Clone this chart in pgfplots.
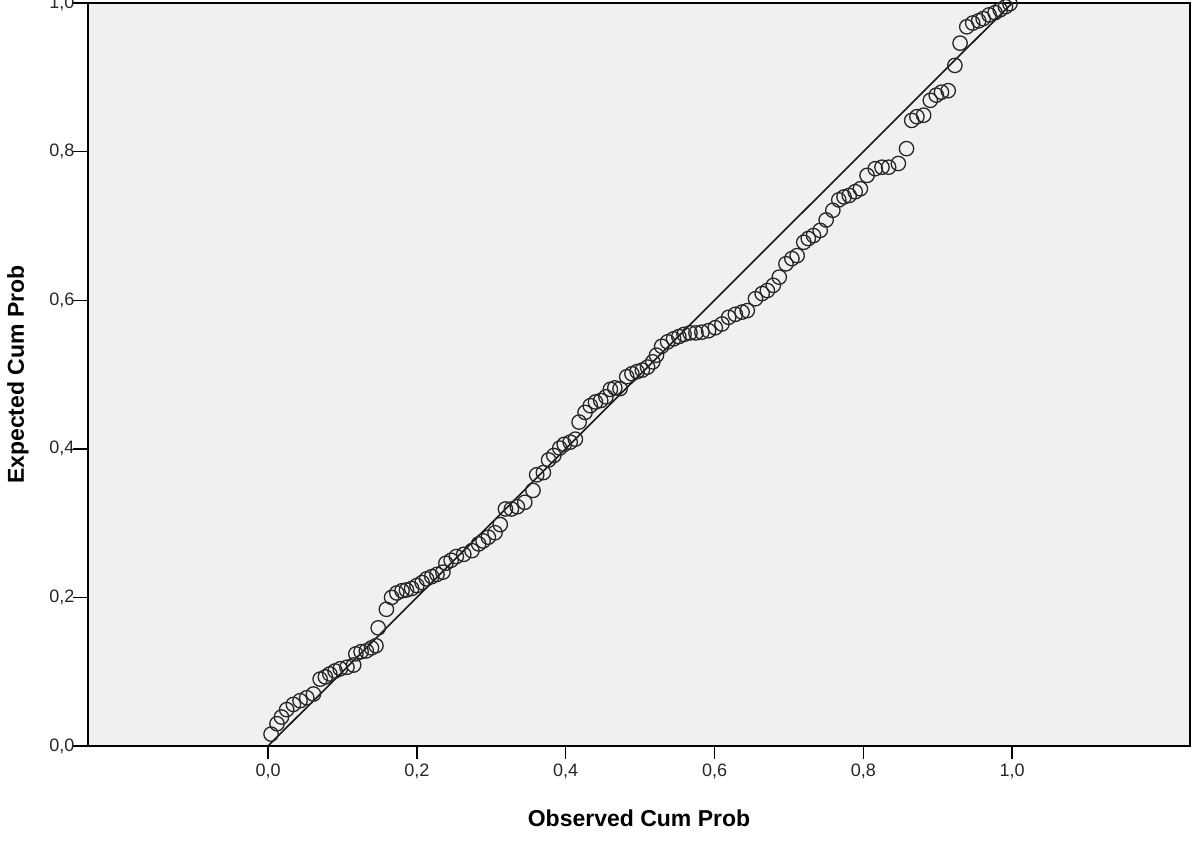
\documentclass[border=0pt]{standalone}
\usepackage{fontspec}
\setmainfont{Liberation Sans}
\usepackage{pgfplots}
\pgfplotsset{compat=1.18}
\usepackage{pgfplotstable}
\definecolor{bggray}{HTML}{F0F0F0}

\pgfplotstableread{
x y
0.004 0.016
0.012 0.030
0.018 0.039
0.025 0.049
0.034 0.056
0.043 0.061
0.052 0.065
0.061 0.070
0.070 0.090
0.077 0.093
0.083 0.097
0.090 0.101
0.097 0.104
0.106 0.106
0.115 0.109
0.118 0.124
0.125 0.127
0.132 0.128
0.139 0.132
0.145 0.135
0.148 0.159
0.159 0.184
0.166 0.200
0.173 0.206
0.180 0.209
0.186 0.210
0.193 0.212
0.200 0.216
0.207 0.220
0.213 0.225
0.220 0.228
0.227 0.231
0.235 0.234
0.239 0.246
0.246 0.250
0.253 0.255
0.263 0.258
0.274 0.263
0.283 0.272
0.289 0.276
0.296 0.281
0.305 0.287
0.312 0.298
0.319 0.319
0.327 0.319
0.335 0.322
0.345 0.328
0.356 0.344
0.361 0.365
0.370 0.368
0.377 0.385
0.384 0.391
0.392 0.401
0.398 0.406
0.406 0.409
0.413 0.413
0.418 0.436
0.426 0.449
0.433 0.458
0.440 0.463
0.447 0.465
0.454 0.470
0.460 0.480
0.466 0.482
0.473 0.481
0.482 0.497
0.489 0.501
0.496 0.504
0.503 0.506
0.510 0.510
0.517 0.517
0.522 0.526
0.529 0.538
0.537 0.544
0.545 0.548
0.552 0.551
0.559 0.554
0.567 0.556
0.575 0.556
0.583 0.557
0.592 0.559
0.601 0.563
0.610 0.568
0.619 0.577
0.628 0.581
0.637 0.584
0.644 0.586
0.655 0.602
0.664 0.609
0.671 0.613
0.679 0.620
0.687 0.631
0.696 0.649
0.704 0.656
0.711 0.660
0.720 0.678
0.726 0.683
0.733 0.687
0.742 0.694
0.750 0.708
0.759 0.721
0.767 0.735
0.774 0.739
0.781 0.741
0.789 0.746
0.796 0.750
0.805 0.768
0.816 0.777
0.825 0.779
0.834 0.779
0.847 0.784
0.858 0.804
0.865 0.842
0.872 0.847
0.881 0.849
0.890 0.869
0.898 0.876
0.905 0.880
0.914 0.882
0.923 0.916
0.930 0.946
0.939 0.968
0.947 0.973
0.955 0.976
0.961 0.979
0.969 0.984
0.977 0.987
0.984 0.991
0.991 0.995
0.997 0.999
}\pptable

\begin{document}
\begin{tikzpicture}
\path[use as bounding box] (-44pt,-48.5pt) rectangle (552pt,373pt);
\begin{axis}[
  scale only axis,
  width=551pt, height=371.5pt,
  xmin=-0.242, xmax=1.239, ymin=0, ymax=1,
  axis background/.style={fill=bggray},
  axis line style={line width=0.7pt, black},
  xtick={0,0.2,0.4,0.6,0.8,1}, ytick={0,0.2,0.4,0.6,0.8,1},
  tick align=outside, xtick pos=bottom, ytick pos=left,
  xtick style={/pgfplots/major tick length=6.5pt},
  ytick style={/pgfplots/major tick length=7.5pt},
  tick style={black, line width=0.7pt},
  /pgf/number format/use comma,
  /pgf/number format/fixed,
  /pgf/number format/fixed zerofill,
  /pgf/number format/precision=1,
  /pgf/number format/assume math mode=true,
  tick label style={font=\fontsize{9}{10.5}\selectfont, text=black!85},
  xticklabel style={yshift=-1pt},
  yticklabel style={xshift=1pt},
  xlabel={Observed Cum Prob},
  ylabel={Expected Cum Prob},
  label style={font=\fontsize{11.5}{13}\selectfont\bfseries},
  xlabel style={at={(axis description cs:0.5,-0.0969)}, anchor=center},
  ylabel style={at={(axis description cs:-0.0635,0.5)}, anchor=center},
]
\addplot[only marks, mark=o, mark size=3.6pt, mark options={line width=0.65pt, draw=black!85}] table[x=x, y=y] {\pptable};
\addplot[black!90, line width=0.8pt] coordinates {(0,0) (1,1)};
\end{axis}
\end{tikzpicture}
\end{document}
